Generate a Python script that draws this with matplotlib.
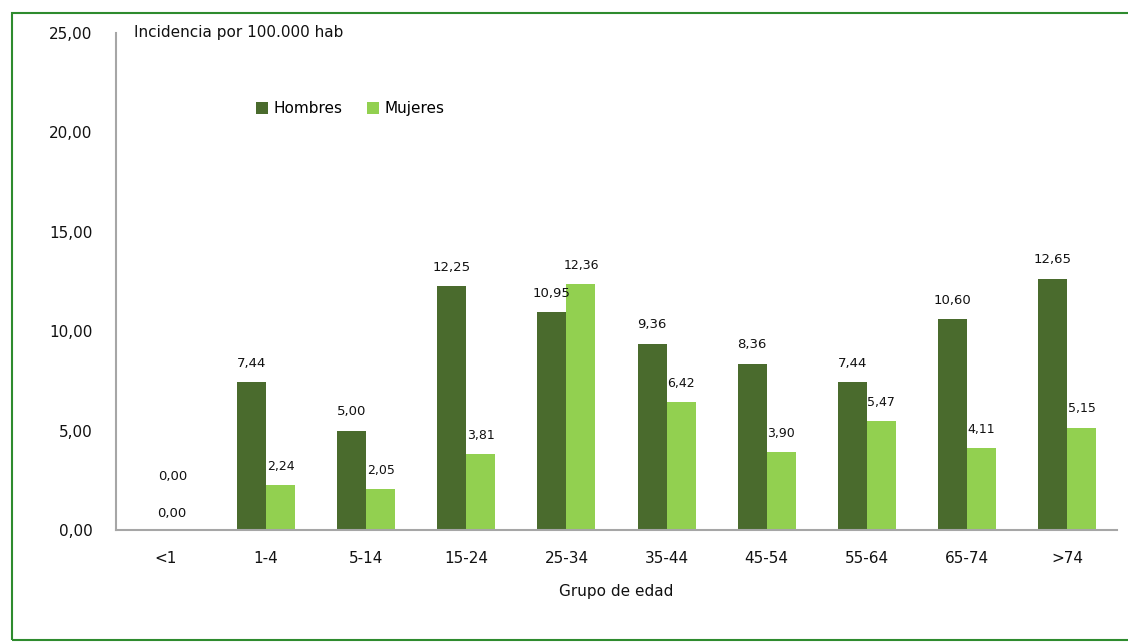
import matplotlib.pyplot as plt
import numpy as np
from matplotlib.patches import Rectangle

grupos = ["<1", "1-4", "5-14", "15-24", "25-34", "35-44", "45-54", "55-64", "65-74", ">74"]
hombres = [0.00, 7.44, 5.00, 12.25, 10.95, 9.36, 8.36, 7.44, 10.60, 12.65]
mujeres = [0.00, 2.24, 2.05, 3.81, 12.36, 6.42, 3.90, 5.47, 4.11, 5.15]

col_h = "#4A6B2D"
col_m = "#92D050"
gris = "#A6A6A6"

plt.rcParams["font.family"] = ["DejaVu Sans"]

fig = plt.figure(figsize=(11.28, 6.43), dpi=100)
ax = fig.add_axes([116 / 1128, 1 - 530 / 643, 1001 / 1128, 497 / 643])

x = np.arange(len(grupos))
w = 0.29
ax.bar(x - w / 2, hombres, w, color=col_h, label="Hombres")
ax.bar(x + w / 2, mujeres, w, color=col_m, label="Mujeres")

def fmt(v):
    return f"{v:.2f}".replace(".", ",")

# zero values: Excel put these labels near the category centre
for i, v in enumerate(hombres):
    xp = x[i] + 0.07 if v == 0 else x[i] - w / 2
    off = 34 if v == 0 else 9
    ax.annotate(fmt(v), (xp, v), xytext=(0, off), textcoords="offset points",
                ha="center", va="bottom", fontsize=9.5, color="#111111")
for i, v in enumerate(mujeres):
    xp = x[i] + 0.06 if v == 0 else x[i] + w / 2
    ax.annotate(fmt(v), (xp, v), xytext=(0, 9 if v > 0 else 7), textcoords="offset points",
                ha="center", va="bottom", fontsize=9.5 if v == 0 else 9, color="#111111")

ax.set_xlim(-0.5, len(grupos) - 0.5)
ax.set_ylim(0, 25)
ax.set_yticks([0, 5, 10, 15, 20, 25])
ax.set_yticklabels([fmt(t) for t in [0, 5, 10, 15, 20, 25]])
ax.set_xticks(x)
ax.set_xticklabels(grupos)
ax.tick_params(axis="both", length=0, labelsize=11, colors="#111111")
ax.tick_params(axis="y", pad=17)
ax.tick_params(axis="x", pad=15)

for s in ["top", "right"]:
    ax.spines[s].set_visible(False)
for s in ["left", "bottom"]:
    ax.spines[s].set_color(gris)
    ax.spines[s].set_linewidth(1.5)

ax.set_xlabel("Grupo de edad", fontsize=11, labelpad=13, color="#111111")
ax.text(0.018, 1.0, "Incidencia por 100.000 hab", transform=ax.transAxes,
        fontsize=11, ha="left", va="center", color="#111111")

ax.legend(loc="upper left", bbox_to_anchor=(0.126, 0.89), ncol=2, frameon=False,
          fontsize=11, handlelength=0.8, handleheight=0.8, handletextpad=0.35,
          columnspacing=1.6)

# green frame around the chart
fig.patches.append(Rectangle((12 / 1128, 1 - 640 / 643), 1.1, 627 / 643,
                             transform=fig.transFigure, fill=False,
                             edgecolor="#2E8B2E", linewidth=1.5))

fig.savefig("out.png", dpi=100)
